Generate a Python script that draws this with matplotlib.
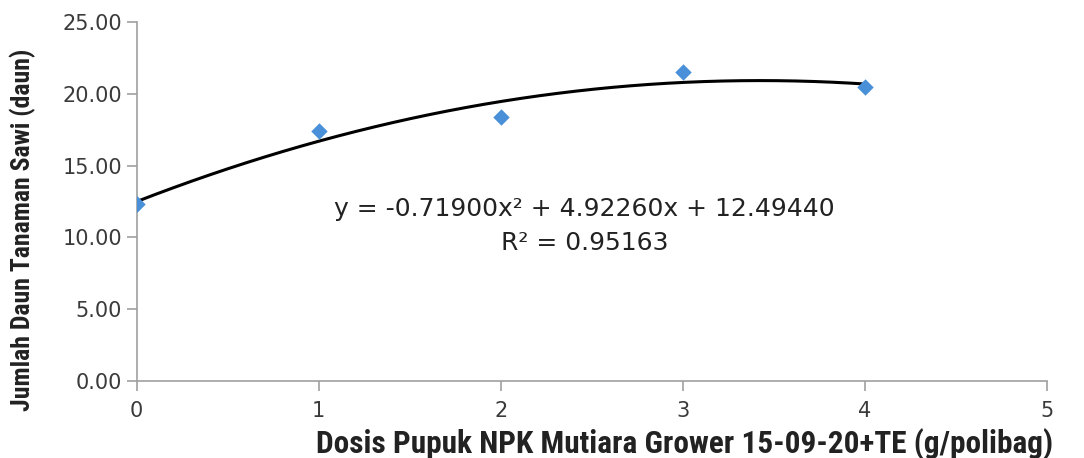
import numpy as np
import matplotlib
matplotlib.use("Agg")
import matplotlib.pyplot as plt
from matplotlib import font_manager

# data
dosis = [0, 1, 2, 3, 4]
jumlah_daun = [12.33, 17.40, 18.35, 21.55, 20.45]
# trendline coefficients (polynomial, order 2)
coef = [-0.71900, 4.92260, 12.49440]
r2 = 0.95163


def narrow_bold(size):
    # look for a condensed bold face, otherwise shrink plain bold
    fonts = font_manager.fontManager.ttflist
    for f in fonts:
        if f.name in ('Liberation Sans Narrow', 'Roboto Condensed') and f.weight in (700, 'bold'):
            return font_manager.FontProperties(fname=f.fname, size=size)
    for f in fonts:
        if f.name == 'DejaVu Sans' and f.stretch == 'condensed' and f.weight in (700, 'bold'):
            return font_manager.FontProperties(fname=f.fname, size=size)
    return font_manager.FontProperties(family='DejaVu Sans', weight='bold', size=size * 0.72)


fig = plt.figure(figsize=(10.84, 4.58), dpi=100)
ax = fig.add_axes([0.126, 0.168, 0.840, 0.784])

ax.scatter(dosis, jumlah_daun, marker='D', s=70, color='#4a90d9', zorder=3, linewidths=0)

xs = np.linspace(0, 4, 200)
ax.plot(xs, np.polyval(coef, xs), color='black', lw=2.2, zorder=2)

ax.set_xlim(0, 5)
ax.set_ylim(0, 25)
ax.set_xticks(range(0, 6))
ax.set_yticks(np.arange(0, 26, 5))
ax.set_yticklabels([f'{v:.2f}' for v in np.arange(0, 26, 5)])

for s in ['top', 'right']:
    ax.spines[s].set_visible(False)
for s in ['left', 'bottom']:
    ax.spines[s].set_color('#a0a0a0')
    ax.spines[s].set_linewidth(1.2)
ax.tick_params(axis='both', colors='#a0a0a0', length=7, width=1.2, labelcolor='#3a3a3a', labelsize=15)
ax.tick_params(axis='x', pad=7)

ax.set_xlabel('Dosis Pupuk NPK Mutiara Grower 15-09-20+TE (g/polibag)',
              fontproperties=narrow_bold(22.5), color='#222222')
ax.xaxis.set_label_coords(0.602, -0.13)
ax.set_ylabel('Jumlah Daun Tanaman Sawi (daun)', fontproperties=narrow_bold(18.5), color='#222222')
ax.yaxis.set_label_coords(-0.11, 0.42)

ax.text(2.46, 11.95, f'y = {coef[0]:.5f}x² + {coef[1]:.5f}x + {coef[2]:.5f}',
        fontsize=18, ha='center', va='center', color='#222222')
ax.text(2.46, 9.6, f'R² = {r2:.5f}', fontsize=18, ha='center', va='center', color='#222222')

fig.savefig('out.png', dpi=100)
